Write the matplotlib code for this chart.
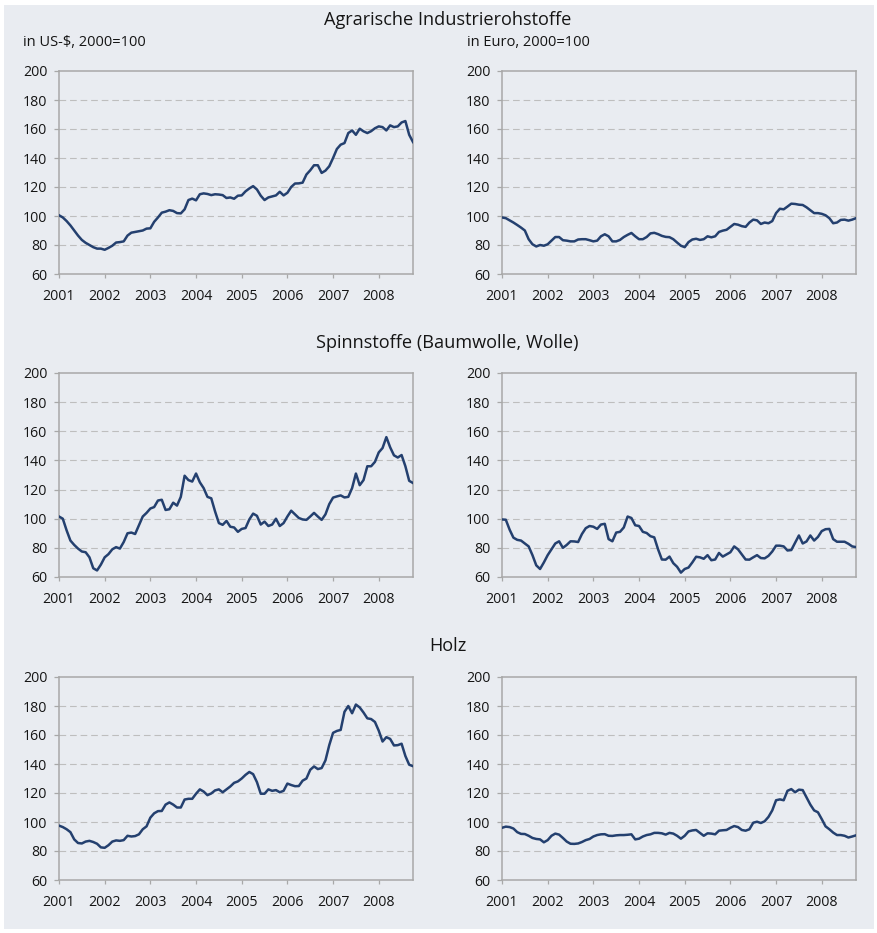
import matplotlib
matplotlib.use("Agg")
import matplotlib.pyplot as plt
import numpy as np
from matplotlib.patches import Rectangle

# ---------------- data (monthly, Jan 2001 - Oct 2008, index 2000 = 100) ----------------
years = ["2001", "2002", "2003", "2004", "2005", "2006", "2007", "2008"]

agrar_usd = [100.5, 99, 96.5, 93.5, 90, 86.5, 83.5, 81.5, 80, 78.5, 77.5, 77.5,
             76.7, 78, 79.5, 81.7, 82, 82.5, 86.5, 88.5, 89, 89.5, 90, 91.3,
             91.5, 96, 99, 102.3, 103, 104, 103.5, 102, 101.8, 104.6, 111, 112,
             110.8, 115, 115.6, 115.2, 114.4, 115, 114.8, 114.4, 112.4, 112.8, 111.9, 114,
             114.2, 117, 119, 120.6, 118.3, 114, 111, 112.8, 113.5, 114.2, 116.7, 114.2,
             116, 120, 122.4, 122.5, 123, 128.6, 131.5, 135, 135, 129.7, 131.3, 134.3,
             140, 146.2, 149.2, 150.3, 157.2, 159, 156, 160.2, 158.4, 157.2, 158.5, 160.5,
             161.8, 161.3, 159, 162.5, 161.3, 161.8, 164.5, 165.5, 156, 151]

agrar_eur = [99, 98.5, 97, 95.5, 93.8, 92, 90, 84, 80.5, 79, 80, 79.5,
             80.5, 83, 85.5, 85.5, 83.3, 83, 82.5, 82.5, 83.8, 84, 84, 83.3,
             82.5, 83, 86, 87.4, 86, 82.5, 82.5, 83.5, 85.5, 87, 88.3, 86,
             84, 84, 85.5, 88, 88.4, 87.5, 86.3, 85.6, 85.4, 84, 81.7, 79.5,
             78.5, 82, 83.8, 84.3, 83.5, 84, 86, 85.3, 86, 89, 89.9, 90.5,
             92.5, 94.5, 94, 93, 92.5, 95.5, 97.5, 97, 94.5, 95.5, 95, 96.5,
             102, 105, 104.6, 106.5, 108.5, 108.3, 107.8, 107.6, 106, 104, 102, 102,
             101.5, 100.5, 98.5, 95, 95.5, 97.3, 97.5, 96.8, 97.5, 98.5]

spinn_usd = [101.5, 100, 92, 85, 82, 79.5, 77.5, 77, 73.5, 66, 64.5, 68.5,
             73.5, 75.7, 79, 80.5, 79.5, 84, 90, 90.5, 89.5, 95.5, 101.5, 104,
             107, 108, 112.5, 113, 106, 106.5, 111, 109, 115, 129.5, 126.5, 125.5,
             131, 125, 121, 115, 114, 105, 97, 95.8, 98.5, 94.5, 94, 91,
             93, 93.6, 99.5, 103.5, 102, 96, 98, 95, 96, 100, 95, 97,
             101.5, 105.5, 103, 100.5, 99.5, 99.2, 101.5, 104, 101.5, 99.2, 103, 110,
             114.5, 115.3, 116, 114.6, 115, 121, 131, 123, 126.5, 136, 136, 139,
             145.5, 148.5, 156, 149, 143.5, 142, 143.7, 136, 126, 124.5]

spinn_eur = [99.5, 99.3, 92.5, 87, 85.5, 85, 83, 81, 75, 68, 65.5, 70,
             75, 79, 83, 84.5, 80, 82, 84.5, 84.4, 84, 89.5, 93.5, 95,
             94.5, 93, 96, 96.5, 86, 84.5, 90.5, 91, 94, 101.5, 100.5, 95.5,
             95, 91, 90.2, 88, 87.2, 79, 72, 71.9, 74, 69.5, 67, 63,
             65.5, 66.5, 70, 73.9, 73.5, 72.5, 75, 71.5, 72, 76.5, 74, 75.5,
             77, 81, 79, 75.5, 72, 71.9, 73.5, 75, 73, 72.8, 74.5, 77.5,
             81.5, 81.5, 81, 78.2, 78.5, 83.5, 88.5, 83, 84.4, 88.5, 85, 87.5,
             91.5, 92.8, 93, 86, 84.2, 84.2, 84.2, 82.8, 81, 80.5]

holz_usd = [97.5, 96.5, 95, 93, 88, 85.5, 85.2, 86.5, 87, 86.2, 85, 82.5,
            82.2, 84, 86.5, 87.3, 87, 87.5, 90.5, 90, 90.3, 91.5, 95, 97,
            103, 106, 107.5, 107.6, 112, 113.5, 112, 110, 110, 115.5, 116, 116,
            119.5, 122.5, 121, 118.5, 119.7, 121.8, 122.5, 120.5, 122.5, 124.5, 127, 128,
            130, 132.5, 134.5, 133, 127.5, 119.5, 119.5, 122.5, 121.5, 122, 120.5, 121.5,
            126.5, 125.5, 124.7, 124.8, 128.5, 130, 136, 138.3, 136.5, 137.2, 142.5, 153,
            161.5, 162.8, 163.5, 176, 180, 175, 181, 179, 175.5, 171.5, 171, 169,
            163, 155.5, 158.5, 157.3, 152.8, 153, 154, 145.5, 139.5, 138.5]

holz_eur = [96, 96.8, 96.5, 95.5, 93, 91.8, 91.7, 90.5, 89, 88.3, 88, 86,
            87.5, 90.5, 92, 91.3, 89, 86.5, 85, 84.9, 85.2, 86.2, 87.5, 88.3,
            90, 91, 91.5, 91.6, 90.5, 90.4, 90.8, 91, 91, 91.2, 91.5, 88,
            88.5, 90, 91, 91.5, 92.5, 92.5, 92.2, 91.3, 92.5, 92, 90.5, 88.5,
            90.5, 93.5, 94.2, 94.5, 92.5, 90.5, 92.2, 92, 91.5, 94, 94.3, 94.5,
            96, 97.2, 96.5, 94.5, 94, 95, 99.5, 100.2, 99.3, 100.5, 103.5, 108,
            115, 115.6, 115, 121.5, 122.7, 120.5, 122.3, 122, 117, 112, 108, 106.7,
            102, 97, 95, 92.7, 91, 91, 90.5, 89.3, 90, 90.8]

titles = ["Agrarische Industrierohstoffe", "Spinnstoffe (Baumwolle, Wolle)", "Holz"]
sub_left = "in US-$, 2000=100"
sub_right = "in Euro, 2000=100"
series = [(agrar_usd, agrar_eur), (spinn_usd, spinn_eur), (holz_usd, holz_eur)]
yticks = [60, 80, 100, 120, 140, 160, 180, 200]

# ---------------- style ----------------
W, H = 878, 933
BG = "#E9ECF1"
LINE = "#24406F"
FRAME = "#A8A8A8"
GRID = "#BEBEBE"
TXT = "#151515"
FONT = ["Open Sans", "DejaVu Sans"]
plt.rcParams["font.family"] = FONT

fig = plt.figure(figsize=(W / 100, H / 100), dpi=100)
fig.patch.set_facecolor("white")
fig.patches.append(Rectangle((4 / W, 4 / H), (W - 8) / W, (H - 9) / H,
                             transform=fig.transFigure, facecolor=BG,
                             edgecolor="none", zorder=-10))

def px_box(l, t, r, b):
    return [l / W, 1 - b / H, (r - l) / W, (b - t) / H]

rows_tb = [(71, 274), (373, 577), (677, 880)]
cols_lr = [(59, 413), (502, 856)]
title_base = [25, 348, 651]

for ri, (t, b) in enumerate(rows_tb):
    for ci, (l, r) in enumerate(cols_lr):
        ax = fig.add_axes(px_box(l, t, r, b))
        ax.set_facecolor(BG)
        vals = series[ri][ci]
        x = np.arange(len(vals))
        ax.plot(x, vals, color=LINE, lw=1.8, solid_joinstyle="round", zorder=3)
        ax.set_xlim(0, 93)
        ax.set_ylim(60, 200)
        ax.set_yticks(yticks)
        ax.set_xticks(np.arange(0, 96, 12)[:len(years)])
        ax.set_xticklabels(years)
        for s in ax.spines.values():
            s.set_color(FRAME)
            s.set_linewidth(1.1)
        ax.tick_params(axis="both", colors=FRAME, labelcolor=TXT, labelsize=10.2,
                       direction="out", width=0.9)
        ax.tick_params(axis="x", length=3.2, pad=7.5)
        ax.tick_params(axis="y", length=3.6, pad=4.8)
        for yv in yticks[1:-1]:
            ax.axhline(yv, color=GRID, lw=0.8, linestyle=(0, (6, 3.5)), zorder=1)
    fig.text(447.5 / W, 1 - title_base[ri] / H, titles[ri], ha="center",
             va="baseline", fontsize=13.1, color=TXT)

fig.text(23.5 / W, 1 - 45.5 / H, sub_left, ha="left", va="baseline",
         fontsize=10.5, color=TXT)
fig.text(467.3 / W, 1 - 45.5 / H, sub_right, ha="left", va="baseline",
         fontsize=10.5, color=TXT)

fig.savefig("out.png", dpi=100, facecolor=fig.get_facecolor())
